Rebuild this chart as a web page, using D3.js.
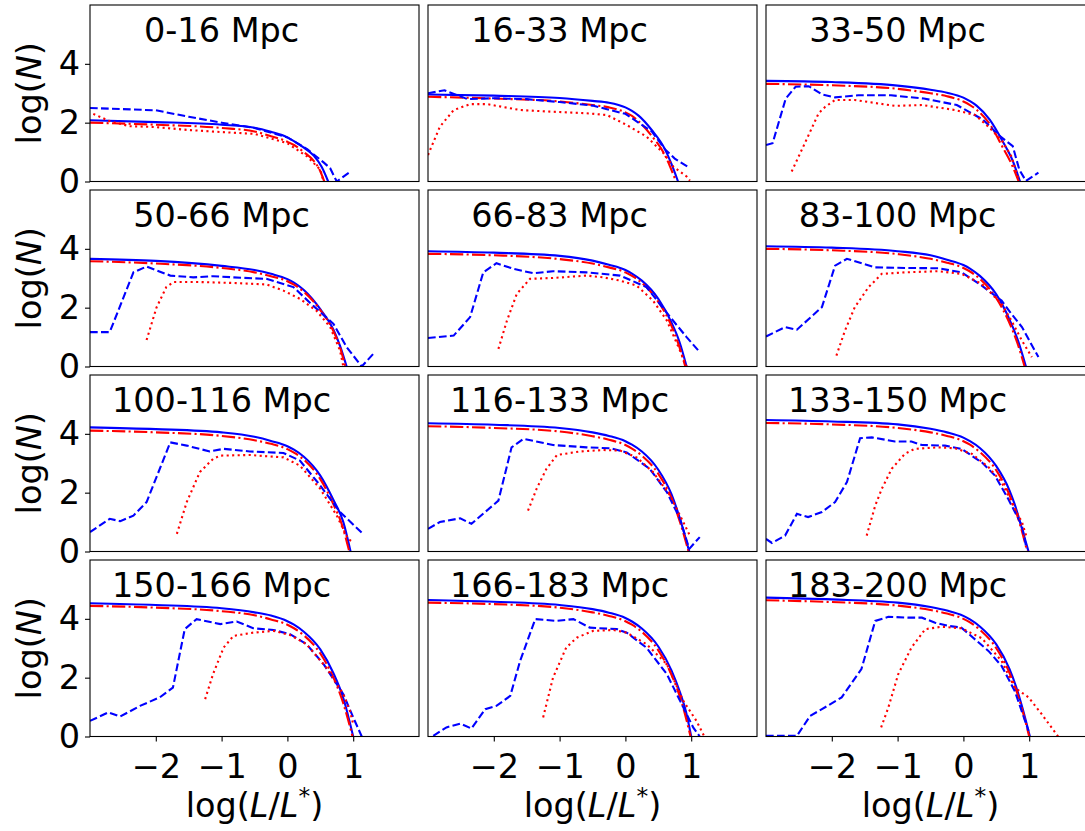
<!DOCTYPE html>
<html>
<head>
<meta charset="utf-8">
<script src="https://cdn.jsdelivr.net/npm/d3@7"></script>
<style>
    body { margin: 0; background: #fff; }
    text { font-family: "DejaVu Sans", sans-serif; }
</style>
</head>
<body>
<div id="chart"></div>
<script>
var svgWidth = 1085;
var svgHeight = 831;

// panel titles and ticks
var panelLabels = ["0-16 Mpc", "16-33 Mpc", "33-50 Mpc", "50-66 Mpc", "66-83 Mpc", "83-100 Mpc",
    "100-116 Mpc", "116-133 Mpc", "133-150 Mpc", "150-166 Mpc", "166-183 Mpc", "183-200 Mpc"];
var xTicks = [-2, -1, 0, 1];
var yTicks = [0, 2, 4];

// blue solid lines, [log(L/L*), log(N)] per panel
var blueSolid = [
    [[-3, 2.08], [-2, 2.02], [-1, 1.93], [-0.5, 1.83], [-0.25, 1.69], [0, 1.5], [0.1, 1.37], [0.25, 1.15], [0.4, 0.88], [0.52, 0.5], [0.62, 0]],
    [[-3, 2.96], [-2, 2.92], [-1, 2.84], [-0.5, 2.74], [-0.25, 2.68], [0, 2.52], [0.1, 2.4], [0.2, 2.24], [0.4, 1.75], [0.6, 1.1], [0.7, 0.6], [0.8, 0]],
    [[-3, 3.42], [-2, 3.38], [-1, 3.26], [-0.5, 3.12], [-0.25, 3.02], [0, 2.85], [0.1, 2.73], [0.2, 2.58], [0.4, 2.1], [0.6, 1.35], [0.75, 0.7], [0.86, 0]],
    [[-3, 3.66], [-2, 3.59], [-1, 3.42], [-0.5, 3.28], [-0.25, 3.15], [0, 2.97], [0.1, 2.85], [0.25, 2.6], [0.5, 1.95], [0.7, 1.25], [0.8, 0.7], [0.9, 0]],
    [[-3, 3.92], [-2, 3.87], [-1, 3.76], [-0.5, 3.6], [-0.25, 3.46], [0, 3.28], [0.1, 3.16], [0.25, 2.92], [0.5, 2.3], [0.7, 1.5], [0.82, 0.85], [0.93, 0]],
    [[-3, 4.09], [-2, 4.04], [-1, 3.92], [-0.5, 3.78], [-0.25, 3.63], [0, 3.45], [0.1, 3.33], [0.25, 3.08], [0.5, 2.45], [0.7, 1.6], [0.83, 0.88], [0.95, 0]],
    [[-3, 4.22], [-2, 4.16], [-1, 4.05], [-0.5, 3.9], [-0.25, 3.76], [0, 3.58], [0.1, 3.46], [0.25, 3.22], [0.5, 2.58], [0.7, 1.75], [0.85, 1.0], [0.96, 0]],
    [[-3, 4.36], [-2, 4.31], [-1, 4.2], [-0.5, 4.05], [-0.25, 3.93], [0, 3.75], [0.1, 3.63], [0.25, 3.4], [0.5, 2.78], [0.7, 1.95], [0.83, 1.11], [0.97, 0]],
    [[-3, 4.47], [-2, 4.42], [-1, 4.32], [-0.5, 4.17], [-0.25, 4.05], [0, 3.87], [0.1, 3.75], [0.25, 3.52], [0.5, 2.9], [0.7, 2.08], [0.78, 1.6], [0.9, 0.7], [0.99, 0]],
    [[-3, 4.53], [-2, 4.47], [-1, 4.36], [-0.5, 4.22], [-0.25, 4.11], [0, 3.92], [0.1, 3.8], [0.25, 3.56], [0.5, 2.96], [0.7, 2.15], [0.85, 1.3], [1.0, 0]],
    [[-3, 4.64], [-2, 4.58], [-1, 4.47], [-0.5, 4.33], [-0.25, 4.21], [0, 4.03], [0.1, 3.91], [0.25, 3.67], [0.5, 3.06], [0.7, 2.25], [0.83, 1.5], [0.92, 0.85], [1.0, 0]],
    [[-3, 4.72], [-2, 4.66], [-1, 4.55], [-0.5, 4.4], [-0.25, 4.28], [0, 4.1], [0.1, 3.98], [0.25, 3.74], [0.5, 3.13], [0.7, 2.3], [0.8, 1.7], [0.9, 0.95], [1.01, 0]]
];

// red dash-dot lines
var redDashDot = [
    [[-3, 2.0], [-2, 1.93], [-1, 1.82], [-0.5, 1.7], [-0.25, 1.54], [0, 1.35], [0.1, 1.24], [0.25, 1.0], [0.4, 0.7], [0.5, 0.35], [0.56, 0]],
    [[-3, 2.88], [-2, 2.82], [-1, 2.72], [-0.5, 2.6], [-0.25, 2.52], [0, 2.35], [0.1, 2.23], [0.2, 2.05], [0.4, 1.55], [0.6, 0.9], [0.68, 0.5], [0.77, 0]],
    [[-3, 3.32], [-2, 3.27], [-1, 3.15], [-0.5, 3.0], [-0.25, 2.9], [0, 2.72], [0.1, 2.6], [0.2, 2.44], [0.4, 1.95], [0.6, 1.15], [0.73, 0.6], [0.84, 0]],
    [[-3, 3.58], [-2, 3.5], [-1, 3.35], [-0.5, 3.2], [-0.25, 3.07], [0, 2.9], [0.1, 2.78], [0.25, 2.54], [0.5, 1.92], [0.7, 1.2], [0.8, 0.65], [0.88, 0]],
    [[-3, 3.83], [-2, 3.78], [-1, 3.65], [-0.5, 3.5], [-0.25, 3.37], [0, 3.2], [0.1, 3.08], [0.25, 2.84], [0.5, 2.2], [0.7, 1.38], [0.8, 0.8], [0.91, 0]],
    [[-3, 4.0], [-2, 3.95], [-1, 3.82], [-0.5, 3.66], [-0.25, 3.53], [0, 3.35], [0.1, 3.23], [0.25, 2.98], [0.5, 2.32], [0.7, 1.48], [0.82, 0.8], [0.93, 0]],
    [[-3, 4.11], [-2, 4.05], [-1, 3.93], [-0.5, 3.78], [-0.25, 3.66], [0, 3.48], [0.1, 3.36], [0.25, 3.12], [0.5, 2.46], [0.7, 1.6], [0.83, 0.9], [0.94, 0]],
    [[-3, 4.26], [-2, 4.2], [-1, 4.08], [-0.5, 3.92], [-0.25, 3.8], [0, 3.62], [0.1, 3.5], [0.25, 3.26], [0.5, 2.64], [0.7, 1.82], [0.83, 1.0], [0.96, 0]],
    [[-3, 4.37], [-2, 4.32], [-1, 4.2], [-0.5, 4.05], [-0.25, 3.93], [0, 3.75], [0.1, 3.63], [0.25, 3.38], [0.5, 2.76], [0.7, 1.92], [0.85, 1.0], [0.97, 0]],
    [[-3, 4.44], [-2, 4.38], [-1, 4.26], [-0.5, 4.12], [-0.25, 3.98], [0, 3.8], [0.1, 3.68], [0.25, 3.44], [0.5, 2.82], [0.7, 2.0], [0.85, 1.12], [0.99, 0]],
    [[-3, 4.55], [-2, 4.5], [-1, 4.38], [-0.5, 4.22], [-0.25, 4.1], [0, 3.92], [0.1, 3.8], [0.25, 3.56], [0.5, 2.93], [0.7, 2.1], [0.85, 1.2], [0.99, 0]],
    [[-3, 4.63], [-2, 4.57], [-1, 4.45], [-0.5, 4.3], [-0.25, 4.18], [0, 4.0], [0.1, 3.88], [0.25, 3.63], [0.5, 3.0], [0.7, 2.16], [0.85, 1.25], [1.0, 0]]
];

// blue dashed lines
var blueDashed = [
    [[-3, 2.5], [-2.5, 2.46], [-2, 2.42], [-1.5, 2.2], [-1, 2.0], [-0.5, 1.82], [0, 1.5], [0.3, 1.1], [0.55, 0.65], [0.65, 0.45], [0.75, 0], [0.95, 0.32]],
    [[-3, 3.0], [-2.75, 3.1], [-2.4, 2.8], [-2, 2.83], [-1.5, 2.8], [-1, 2.7], [-0.5, 2.58], [0, 2.3], [0.4, 1.7], [0.6, 1.1], [0.75, 0.78], [0.95, 0.5]],
    [[-3, 1.24], [-2.9, 1.3], [-2.7, 2.82], [-2.55, 3.22], [-2.35, 3.24], [-2.15, 2.96], [-1.95, 2.86], [-1.6, 2.93], [-1.1, 2.93], [-0.6, 2.82], [-0.1, 2.6], [0.3, 2.1], [0.55, 1.55], [0.75, 1.2], [0.85, 0.4], [0.95, 0.02], [1.14, 0.3]],
    [[-3, 1.17], [-2.7, 1.17], [-2.34, 3.2], [-2.14, 3.4], [-1.78, 3.09], [-1.43, 3.03], [-1.13, 3.07], [-0.82, 3.03], [-0.32, 2.98], [0.09, 2.7], [0.39, 2.07], [0.7, 1.45], [0.9, 0.66], [1.13, 0], [1.33, 0.49]],
    [[-3, 0.97], [-2.61, 1.05], [-2.36, 1.68], [-2.16, 3.2], [-1.96, 3.51], [-1.7, 3.32], [-1.4, 3.17], [-1.1, 3.24], [-0.59, 3.2], [-0.08, 3.09], [0.32, 2.7], [0.68, 1.68], [0.93, 1.0], [1.13, 0.49]],
    [[-3, 1.02], [-2.71, 1.34], [-2.53, 1.25], [-2.15, 2.02], [-1.95, 3.43], [-1.77, 3.66], [-1.34, 3.37], [-0.89, 3.35], [-0.38, 3.34], [-0.03, 3.2], [0.28, 2.75], [0.58, 2.24], [0.73, 1.79], [0.89, 1.34], [1.14, 0.32]],
    [[-3, 0.66], [-2.7, 1.11], [-2.54, 1.03], [-2.34, 1.22], [-2.14, 1.68], [-1.78, 3.71], [-1.53, 3.6], [-1.18, 3.4], [-0.97, 3.49], [-0.57, 3.4], [-0.06, 3.35], [0.19, 3.09], [0.5, 2.24], [0.8, 1.34], [1.15, 0.6]],
    [[-3, 0.77], [-2.82, 1.0], [-2.51, 1.13], [-2.34, 0.94], [-1.93, 1.73], [-1.73, 3.54], [-1.55, 3.83], [-1.1, 3.62], [-0.59, 3.54], [-0.23, 3.51], [0.02, 3.37], [0.37, 2.81], [0.63, 2.02], [0.83, 1.11], [0.97, 0.09], [1.13, 0.49]],
    [[-3, 0.43], [-2.91, 0.29], [-2.71, 0.54], [-2.53, 1.28], [-2.36, 1.17], [-2.15, 1.34], [-1.95, 1.68], [-1.77, 2.36], [-1.57, 3.85], [-1.39, 3.88], [-1.04, 3.74], [-0.79, 3.74], [-0.63, 3.62], [-0.28, 3.6], [-0.03, 3.49], [0.28, 3.03], [0.48, 2.58], [0.68, 1.79], [0.89, 0.88], [0.96, 0.09]],
    [[-3, 0.53], [-2.72, 0.82], [-2.54, 0.68], [-2.24, 1.04], [-1.94, 1.33], [-1.74, 1.66], [-1.56, 3.65], [-1.38, 3.99], [-1.02, 3.82], [-0.77, 3.91], [-0.52, 3.68], [-0.21, 3.62], [0.04, 3.48], [0.29, 3.14], [0.55, 2.46], [0.85, 1.44], [1.0, 0.65], [1.13, 0]],
    [[-2.92, 0.02], [-2.72, 0.31], [-2.51, 0.44], [-2.34, 0.27], [-2.13, 0.93], [-1.96, 1.04], [-1.75, 1.38], [-1.6, 2.57], [-1.37, 3.99], [-1.04, 3.93], [-0.79, 3.99], [-0.54, 3.7], [-0.13, 3.65], [0.02, 3.53], [0.32, 3.02], [0.63, 2.12], [0.88, 0.99], [1.03, 0.31], [1.13, 0]],
    [[-3, 0.02], [-2.53, 0.02], [-2.33, 0.7], [-2.15, 0.93], [-1.85, 1.33], [-1.55, 2.29], [-1.34, 3.93], [-1.14, 4.07], [-0.84, 4.04], [-0.63, 4.04], [-0.43, 3.87], [-0.23, 3.76], [-0.03, 3.7], [0.38, 2.91], [0.58, 2.4], [0.78, 1.55], [0.99, 0.19]]
];

// red dotted lines
var redDotted = [
    [[-2.95, 2.3], [-2.7, 2.05], [-2.4, 1.88], [-2, 1.85], [-1.5, 1.75], [-1, 1.68], [-0.5, 1.62], [0, 1.3], [0.3, 0.85], [0.5, 0.4], [0.55, 0]],
    [[-3, 0.9], [-2.82, 1.86], [-2.61, 2.43], [-2.36, 2.63], [-2.1, 2.63], [-1.6, 2.43], [-1.1, 2.37], [-0.59, 2.32], [-0.28, 2.26], [0.02, 1.92], [0.32, 1.53], [0.58, 0.96], [0.73, 0.5], [0.93, 0.17], [0.98, 0.03]],
    [[-2.61, 0.34], [-2.41, 1.3], [-2.2, 2.32], [-2.1, 2.54], [-1.95, 2.77], [-1.65, 2.77], [-1.04, 2.57], [-0.63, 2.6], [-0.13, 2.43], [0.18, 2.26], [0.38, 1.86], [0.58, 1.41], [0.73, 0.85], [0.84, 0.06]],
    [[-2.14, 0.9], [-1.99, 2.0], [-1.84, 2.7], [-1.73, 2.87], [-1.33, 2.87], [-0.82, 2.84], [-0.32, 2.79], [-0.06, 2.58], [0.19, 2.3], [0.44, 1.9], [0.65, 1.34], [0.8, 0.54], [0.85, 0]],
    [[-1.93, 0.6], [-1.8, 1.56], [-1.65, 2.47], [-1.45, 2.98], [-1.1, 3.01], [-0.59, 3.09], [-0.34, 3.03], [-0.08, 2.92], [0.17, 2.75], [0.42, 2.24], [0.63, 1.56], [0.83, 0.54], [0.93, 0]],
    [[-1.93, 0.37], [-1.8, 1.22], [-1.65, 2.02], [-1.44, 2.7], [-1.24, 3.15], [-0.89, 3.2], [-0.38, 3.24], [-0.03, 3.15], [0.28, 2.81], [0.58, 2.13], [0.73, 1.56], [0.89, 0.88], [1.04, 0.32]],
    [[-1.68, 0.6], [-1.53, 1.68], [-1.33, 2.7], [-1.13, 3.15], [-1.02, 3.26], [-0.57, 3.28], [-0.06, 3.2], [0.19, 2.92], [0.5, 2.13], [0.75, 1.22], [0.92, 0.43], [1.0, 0.32]],
    [[-1.48, 1.39], [-1.35, 2.13], [-1.2, 2.81], [-1.04, 3.28], [-0.69, 3.4], [-0.34, 3.45], [-0.08, 3.43], [0.17, 3.2], [0.42, 2.7], [0.68, 1.9], [0.88, 1.0], [0.98, 0.54]],
    [[-1.47, 0.54], [-1.34, 1.56], [-1.24, 2.13], [-1.09, 2.81], [-0.89, 3.32], [-0.74, 3.49], [-0.38, 3.54], [-0.13, 3.51], [0.13, 3.32], [0.38, 2.87], [0.58, 2.36], [0.78, 1.45], [0.89, 1.0], [0.96, 0.49]],
    [[-1.25, 1.27], [-1.13, 2.12], [-0.97, 3.02], [-0.82, 3.42], [-0.52, 3.53], [-0.21, 3.59], [0.04, 3.45], [0.29, 3.14], [0.59, 2.34], [0.85, 1.44], [0.95, 0.87], [1.0, 0.42]],
    [[-1.25, 0.65], [-1.1, 2.0], [-0.9, 3.02], [-0.74, 3.36], [-0.49, 3.59], [-0.18, 3.62], [0.02, 3.53], [0.32, 3.14], [0.63, 2.46], [0.88, 1.21], [1.08, 0.53], [1.2, 0]],
    [[-1.25, 0.31], [-1.14, 0.99], [-0.99, 2.12], [-0.79, 3.02], [-0.58, 3.65], [-0.33, 3.73], [-0.03, 3.68], [0.28, 3.34], [0.58, 2.57], [0.78, 1.66], [0.99, 1.33], [1.19, 0.76], [1.44, 0]]
];

// grid layout
var nCols = 3;
var panelW = 329;
var panelH = 176.5;
var left0 = 90, top0 = 5;
var stepX = 338, stepY = 185;
var fontSize = 33.5;

var svg = d3.select("#chart")
    .append("svg")
    .attr("width", svgWidth)
    .attr("height", svgHeight);

var xScale = d3.scaleLinear().domain([-3, 2]).range([0, panelW]);
var yScale = d3.scaleLinear().domain([0, 6]).range([panelH, 0]);

var smoothLine = d3.line()
    .x(d => xScale(d[0]))
    .y(d => yScale(d[1]))
    .curve(d3.curveMonotoneX);
var rawLine = d3.line()
    .x(d => xScale(d[0]))
    .y(d => yScale(d[1]));

// series styles
var series = [
    { data: blueSolid, line: smoothLine, color: "#0000ff", dash: null },
    { data: redDashDot, line: smoothLine, color: "#ff0000", dash: "13.3,3.3,2.1,3.3" },
    { data: blueDashed, line: rawLine, color: "#0000ff", dash: "7.7,3.3" },
    { data: redDotted, line: rawLine, color: "#ff0000", dash: "2.1,3.4" }
];

var tickFmt = d3.format("d");

panelLabels.forEach(function (label, i) {
    var col = i % nCols;
    var row = Math.floor(i / nCols);
    var g = svg.append("g")
        .attr("transform", `translate(${left0 + col * stepX}, ${top0 + row * stepY})`);

    g.append("clipPath")
        .attr("id", "clip" + i)
        .append("rect")
        .attr("width", panelW)
        .attr("height", panelH);

    var plot = g.append("g").attr("clip-path", `url(#clip${i})`);
    series.forEach(function (s) {
        plot.append("path")
            .attr("d", s.line(s.data[i]))
            .attr("fill", "none")
            .attr("stroke", s.color)
            .attr("stroke-width", 2.1)
            .attr("stroke-dasharray", s.dash);
    });

    // frame
    g.append("rect")
        .attr("width", panelW)
        .attr("height", panelH)
        .attr("fill", "none")
        .attr("stroke", "#000")
        .attr("stroke-width", 1.1);

    g.append("text")
        .attr("x", xScale(-1))
        .attr("y", 36.5)
        .attr("text-anchor", "middle")
        .style("font-size", fontSize + "px")
        .text(label);

    // y axis on the left column
    if (col === 0) {
        var yAxis = g.append("g")
            .call(d3.axisLeft(yScale).tickValues(yTicks).tickFormat(tickFmt).tickSize(5).tickPadding(5));
        yAxis.select(".domain").remove();
        yAxis.selectAll("line").attr("stroke-width", 1.1);
        yAxis.selectAll("text").attr("fill", "#000").style("font-size", fontSize + "px")
            .style("font-family", "DejaVu Sans");

        var yLab = g.append("text")
            .attr("transform", `translate(${41 - left0}, ${panelH / 2}) rotate(-90)`)
            .attr("text-anchor", "middle")
            .style("font-size", fontSize + "px");
        yLab.append("tspan").text("log(");
        yLab.append("tspan").style("font-style", "italic").text("N");
        yLab.append("tspan").text(")");
    }

    // x axis on the bottom row
    if (row === 3) {
        var xAxis = g.append("g")
            .attr("transform", `translate(0, ${panelH})`)
            .call(d3.axisBottom(xScale).tickValues(xTicks).tickFormat(tickFmt).tickSize(5).tickPadding(13));
        xAxis.select(".domain").remove();
        xAxis.selectAll("line").attr("stroke-width", 1.1);
        xAxis.selectAll("text").attr("fill", "#000").style("font-size", fontSize + "px")
            .style("font-family", "DejaVu Sans");

        var xLab = g.append("text")
            .attr("x", panelW / 2)
            .attr("y", 817 - (top0 + row * stepY))
            .attr("text-anchor", "middle")
            .style("font-size", fontSize + "px");
        xLab.append("tspan").text("log(");
        xLab.append("tspan").style("font-style", "italic").text("L");
        xLab.append("tspan").text("/");
        xLab.append("tspan").style("font-style", "italic").text("L");
        xLab.append("tspan").attr("dy", -13).style("font-size", (fontSize * 0.7) + "px").text("*");
        xLab.append("tspan").attr("dy", 13).text(")");
    }
});
</script>
</body>
</html>
